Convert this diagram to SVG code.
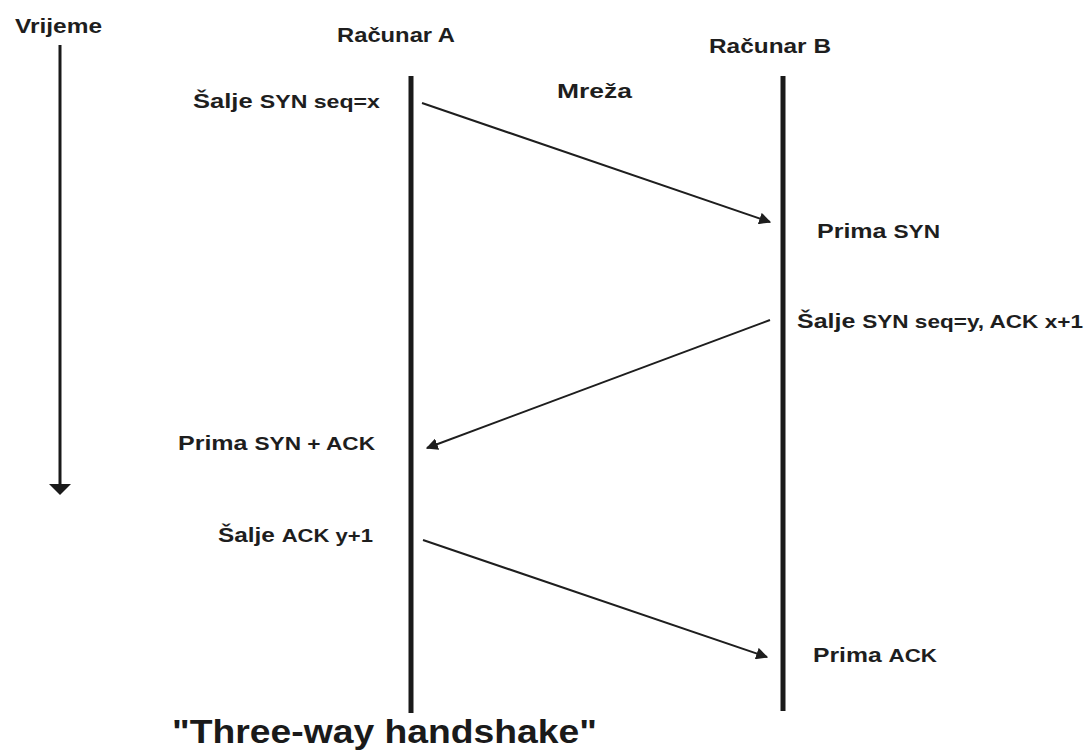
<svg xmlns="http://www.w3.org/2000/svg" width="1089" height="756" viewBox="0 0 1089 756">
  <style>
    .lbl { font-family: "Liberation Sans", Arial, sans-serif; font-weight: bold; font-size: 21px; fill: #1e1e1e; }
    .sm { font-size: 19px; }
    .title { font-family: "Liberation Sans", Arial, sans-serif; font-weight: bold; font-size: 33px; fill: #1a1a1a; }
    .life { stroke: #1a1a1a; stroke-width: 5; fill: none; }
    .msg { stroke: #1e1e1e; stroke-width: 2; fill: none; marker-end: url(#ah); }
  </style>
  <defs>
    <marker id="ah" viewBox="0 0 10 10" refX="9" refY="5" markerWidth="6" markerHeight="6" markerUnits="strokeWidth" orient="auto">
      <path d="M0,0 L10,5 L0,10 z" fill="#1e1e1e"/>
    </marker>
  </defs>
  <rect width="1089" height="756" fill="#ffffff"/>

  <g id="time">
    <text class="lbl" x="15" y="33" textLength="87" lengthAdjust="spacingAndGlyphs">Vrijeme</text>
    <line x1="60" y1="45" x2="60" y2="486" stroke="#1a1a1a" stroke-width="3"/>
    <polygon points="49,484 71,484 60,495" fill="#1a1a1a"/>
  </g>

  <g id="host-a">
    <text class="lbl" x="337" y="42" textLength="118" lengthAdjust="spacingAndGlyphs">Računar A</text>
    <line class="life" x1="411" y1="76" x2="411" y2="713"/>
  </g>

  <g id="host-b">
    <text class="lbl" x="709" y="53" textLength="122" lengthAdjust="spacingAndGlyphs">Računar B</text>
    <line class="life" x1="783" y1="76" x2="783" y2="711"/>
  </g>

  <g id="network">
    <text class="lbl" x="557" y="98" textLength="75" lengthAdjust="spacingAndGlyphs">Mreža</text>
  </g>

  <g id="labels">
    <text class="lbl" x="193" y="108" textLength="187" lengthAdjust="spacingAndGlyphs">Šalje <tspan class="sm">SYN seq=x</tspan></text>
    <text class="lbl" x="817" y="238" textLength="123" lengthAdjust="spacingAndGlyphs">Prima <tspan class="sm">SYN</tspan></text>
    <text class="lbl" x="797" y="328" textLength="286" lengthAdjust="spacingAndGlyphs">Šalje <tspan class="sm">SYN seq=y, ACK x+1</tspan></text>
    <text class="lbl" x="178" y="450" textLength="197" lengthAdjust="spacingAndGlyphs">Prima <tspan class="sm">SYN + ACK</tspan></text>
    <text class="lbl" x="218" y="542" textLength="155" lengthAdjust="spacingAndGlyphs">Šalje <tspan class="sm">ACK y+1</tspan></text>
    <text class="lbl" x="813" y="662" textLength="124" lengthAdjust="spacingAndGlyphs">Prima <tspan class="sm">ACK</tspan></text>
  </g>

  <g id="connectors">
    <line class="msg" x1="422" y1="103" x2="770" y2="222"/>
    <line class="msg" x1="770" y1="320" x2="427" y2="448"/>
    <line class="msg" x1="423" y1="540" x2="767" y2="657"/>
  </g>

  <text class="title" x="172" y="743" textLength="425" lengthAdjust="spacingAndGlyphs">"Three-way handshake"</text>
</svg>
